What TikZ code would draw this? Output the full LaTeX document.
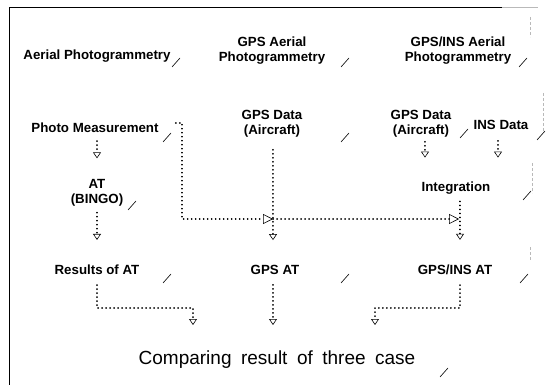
\documentclass[tikz,border=0pt]{standalone}
\usepackage{fontspec}
\setmainfont{Liberation Sans}
\newfontfamily\capfont[WordSpace=1.8]{Liberation Sans}
\usetikzlibrary{arrows.meta,positioning,calc}

\begin{document}
\begin{tikzpicture}[x=1pt,y=-1pt,
		font=\fontsize{13.3}{15}\selectfont\bfseries,
		lbl/.style={align=center,inner sep=0pt},
		flow/.style={line width=1.8pt,line cap=round,
			dash pattern=on 0.1pt off 3.9pt,
			-{Triangle[open,length=6pt,width=8pt,line width=0.6pt]}},
		bigflow/.style={flow,
			-{Triangle[open,length=10pt,width=10pt,line width=0.6pt]}},
		cornermark/.style={line width=0.6pt},
		faint/.style={gray!55,line width=0.6pt,densely dashed}]
		\useasboundingbox (0,0) rectangle (549,385);

		% frame
		\draw[line width=0.8pt] (9,385) -- (9,7) -- (502,7);
		\draw[gray!55,line width=0.6pt] (502,7) -- (538,7);

		% three cases
		\node[lbl] (aerial) at (97,56) {Aerial Photogrammetry};
		\node[lbl] (gpsaerial) at (272,51) {GPS Aerial\\Photogrammetry};
		\node[lbl] (insaerial) at (458,51) {GPS/INS Aerial\\Photogrammetry};

		\node[lbl] (photo) at (95,128) {Photo Measurement};
		\node[lbl] (gpsdata) at (272,124) {GPS Data\\(Aircraft)};
		\node[lbl] (gpsdata2) at (421,124) {GPS Data\\(Aircraft)};
		\node[lbl] (insdata) at (501,125) {INS Data};

		\node[lbl] (bingo) at (97,193) {AT\\(BINGO)};
		\node[lbl] (integ) at (456,188) {Integration};

		\node[lbl] (atres) at (97,270) {Results of AT};
		\node[lbl] (gpsat) at (275,270) {GPS AT};
		\node[lbl] (insat) at (455,270) {GPS/INS AT};

		\node[lbl,font=\capfont\fontsize{19}{22}\selectfont] (caption) at (277,360) {Comparing result of three case};

		\coordinate (j1) at (182,219);
		\coordinate (j2) at (273,219);
		\coordinate (j3) at (459,219);
		\coordinate (cmp1) at (193,325);
		\coordinate (cmp2) at (273,325);
		\coordinate (cmp3) at (375,325);

		% connectors
		\draw[flow,shorten <=8pt,shorten >=21pt] (bingo.north |- photo.south) -- (bingo.north);
		\draw[flow,shorten <=6pt,shorten >=25pt] (bingo.south) -- (atres.north);
		\draw[flow,shorten <=10pt] (atres.south) |- ($(cmp1)+(0,-17)$) -- (cmp1);

		\draw[bigflow,shorten <=17pt] (photo.north east) -| (j1) -- (j2);
		\draw[bigflow] (j2) -- (j3);

		\draw[flow,shorten <=12pt] (gpsdata.south -| j2) -- ($(gpsat.north -| j2)+(0,-25)$);
		\draw[flow,shorten <=10pt] (gpsat.south -| cmp2) -- (cmp2);

		\draw[flow,shorten <=4pt,shorten >=24pt] ([xshift=4pt]gpsdata2.south) -- ([xshift=4pt]gpsdata2.south |- integ.north);
		\draw[flow,shorten <=11pt,shorten >=24pt] ([xshift=-3pt]insdata.south) -- ([xshift=-3pt]insdata.south |- integ.north);
		\draw[flow,shorten <=7pt,shorten >=25pt] ([xshift=4pt]integ.south) -- ([xshift=5pt]insat.north);
		\draw[flow,shorten <=10pt] ([xshift=5pt]insat.south) |- ($(cmp3)+(0,-17)$) -- (cmp3);

		% shadow corners of the faded boxes
		\foreach \x/\y in {172/67,341/67,519/67,163/142,341/142,460/138,537/140,
			128/210,523/200,163/283,341/283,520/283,440/377}
			\draw[cornermark] (\x,\y) -- ++(8,-9);
		\draw[faint] (543,93) -- (543,132);
		\draw[faint] (532,163) -- (532,193);
		\draw[faint] (530,17) -- (530,37);
		\draw[faint] (530,247) -- (530,260);
	\end{tikzpicture}
\end{document}
